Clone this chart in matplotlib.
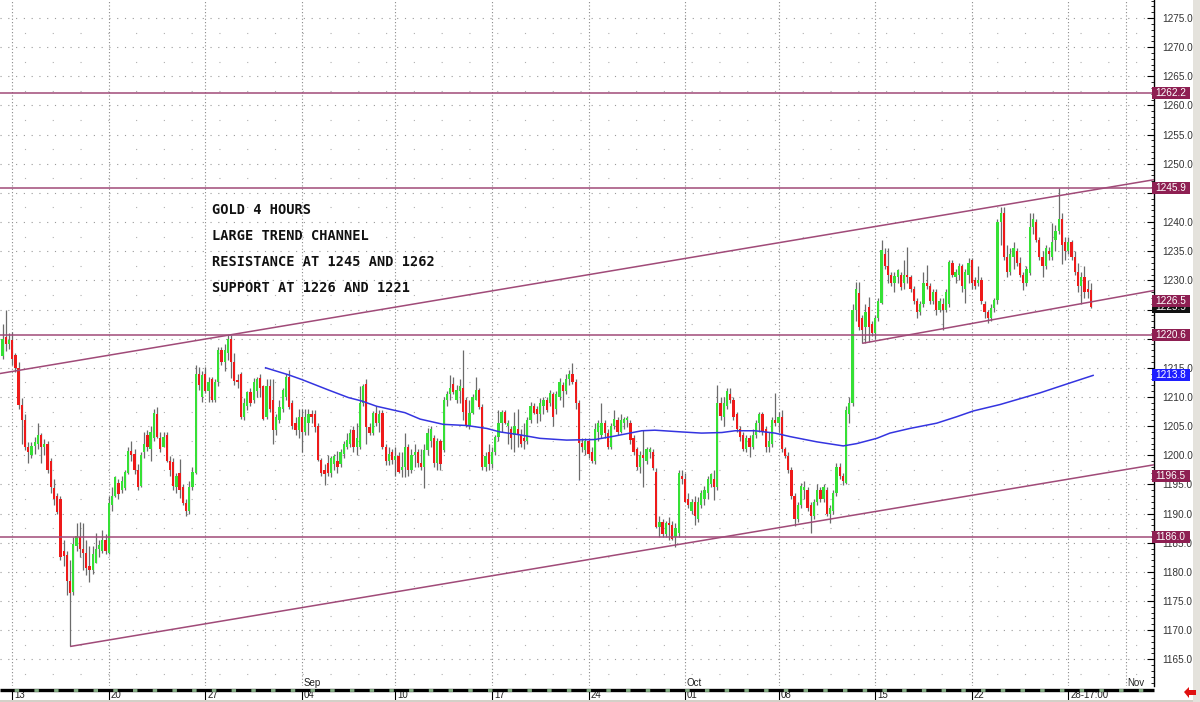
import numpy as np
import matplotlib
matplotlib.use("Agg")
import matplotlib.pyplot as plt
from matplotlib.transforms import blended_transform_factory
from matplotlib.patches import Rectangle, Polygon
from matplotlib.ticker import MultipleLocator, FuncFormatter

# ---------------- data (4-hour OHLC bars) ----------------
bars_aug_a = [
    (1217.0,1222.5,1216.5,1220.0),(1220.3,1224.9,1217.8,1219.0),(1219.0,1221.0,1218.3,1219.8),
    (1219.8,1221.2,1215.5,1216.5),(1217.2,1217.5,1214.3,1215.0),(1215.0,1216.0,1208.0,1208.6),
    (1208.6,1209.8,1202.0,1206.0),(1206.0,1207.0,1200.9,1201.5),(1201.5,1202.3,1198.6,1200.5),
    (1200.0,1202.3,1199.5,1201.6),(1201.6,1203.2,1200.3,1202.3),(1202.0,1205.5,1201.0,1203.5),
    (1203.5,1203.8,1198.6,1201.5),(1201.5,1202.8,1200.0,1202.0),(1202.0,1202.5,1197.0,1197.5),
    (1199.0,1199.5,1193.5,1194.5),(1194.3,1196.0,1191.5,1192.5),(1193.0,1193.5,1190.0,1190.3),
    (1192.5,1193.0,1182.0,1182.6),(1183.5,1185.5,1181.0,1182.8),(1182.9,1183.5,1176.0,1178.5),
    (1178.5,1182.0,1167.2,1176.3),(1176.5,1186.0,1176.0,1184.8),(1184.5,1188.3,1183.5,1186.2),
    (1186.0,1188.6,1182.6,1184.0),(1184.0,1188.3,1180.3,1183.2),(1183.2,1185.5,1179.5,1180.6),
    (1181.0,1184.5,1178.3,1180.3),(1180.3,1184.5,1179.7,1183.0),(1181.5,1186.6,1181.5,1184.0),
    (1184.0,1185.5,1182.5,1184.6),(1183.5,1187.2,1183.2,1185.5),(1185.5,1186.5,1183.0,1183.5),
]
bars_aug_b = [
    (1183.2,1193.0,1183.0,1191.8),(1191.5,1194.5,1190.5,1193.0),(1193.0,1196.5,1192.8,1196.3),
    (1195.2,1196.0,1192.5,1193.4),(1194.0,1196.5,1193.5,1195.5),(1194.4,1197.5,1194.0,1197.2),
    (1197.0,1201.5,1196.8,1200.8),(1200.8,1202.5,1199.0,1200.0),(1200.3,1201.0,1196.8,1197.5),
    (1197.5,1198.5,1194.0,1194.5),(1194.8,1200.5,1194.5,1200.0),(1200.5,1204.0,1199.5,1202.0),
    (1203.5,1204.3,1200.8,1201.5),(1201.0,1205.0,1199.0,1204.0),(1203.0,1208.0,1202.5,1207.2),
    (1207.0,1208.2,1203.0,1203.2),(1203.0,1204.0,1200.5,1201.0),(1201.5,1204.0,1201.5,1203.2),
    (1203.5,1204.0,1198.8,1199.0),(1199.0,1199.8,1196.5,1197.5),(1198.8,1199.5,1194.0,1194.8),
    (1194.5,1197.0,1193.5,1196.5),(1197.0,1199.3,1192.7,1194.0),(1194.5,1195.0,1191.5,1191.8),
    (1191.8,1192.5,1189.5,1190.5),(1190.5,1195.5,1190.0,1194.5),(1194.5,1198.0,1194.0,1197.2),
    (1197.0,1215.5,1196.8,1214.0),
]
bars_sep_a = [
    (1214.0,1215.2,1211.2,1212.0),(1210.0,1214.5,1209.2,1213.8),(1214.0,1215.2,1210.6,1211.0),
    (1211.0,1213.5,1209.2,1212.5),(1213.0,1213.5,1209.2,1209.5),(1209.5,1213.0,1209.2,1212.5),
    (1212.5,1218.6,1211.8,1218.0),(1218.0,1218.6,1215.5,1216.0),(1216.0,1219.0,1214.5,1218.0),
    (1217.5,1220.6,1216.3,1220.0),(1220.0,1220.6,1213.2,1216.0),(1216.0,1217.5,1212.0,1212.8),
    (1212.8,1214.0,1211.5,1212.5),(1214.0,1214.2,1206.2,1206.6),(1206.6,1209.8,1206.0,1209.0),
    (1208.5,1211.0,1207.8,1210.8),(1210.8,1211.5,1208.5,1209.0),(1209.5,1213.2,1209.0,1212.5),
    (1211.0,1213.5,1210.0,1213.0),(1213.2,1214.0,1210.0,1211.5),(1211.8,1212.0,1206.0,1206.3),
    (1206.5,1213.0,1206.3,1211.8),(1211.8,1213.0,1207.5,1208.0),(1209.5,1213.0,1202.0,1204.3),
    (1204.3,1207.0,1203.5,1206.5),(1206.0,1209.5,1205.5,1208.3),(1208.0,1211.5,1207.5,1211.2),
    (1210.0,1214.0,1209.5,1213.5),(1213.5,1214.6,1208.0,1208.3),(1208.9,1209.5,1204.5,1205.0),
    (1205.5,1206.5,1203.5,1204.3),(1204.3,1208.0,1203.0,1206.6),
]
bars_sep_b = [
    (1206.5,1208.0,1200.6,1204.0),(1204.0,1208.0,1203.5,1206.5),(1205.5,1208.0,1203.5,1207.0),
    (1207.0,1207.8,1205.5,1206.5),(1207.0,1207.8,1204.0,1204.8),(1205.0,1205.5,1199.0,1199.2),
    (1199.2,1199.5,1196.5,1197.0),(1197.5,1198.5,1194.9,1196.8),(1198.6,1200.0,1196.5,1197.0),
    (1197.0,1199.8,1196.3,1199.5),(1198.5,1200.3,1197.5,1199.8),(1199.0,1200.8,1197.0,1198.0),
    (1198.5,1201.0,1198.0,1200.5),(1200.3,1202.5,1199.5,1202.0),(1201.5,1203.8,1201.0,1202.6),
    (1202.0,1204.5,1201.5,1203.8),(1204.3,1205.0,1200.5,1201.5),(1201.5,1205.5,1200.0,1203.0),
    (1201.5,1211.8,1201.0,1209.0),(1209.0,1212.3,1208.5,1211.8),(1212.3,1213.0,1202.0,1204.9),
    (1204.9,1205.5,1203.5,1203.8),(1203.8,1207.6,1203.5,1207.2),(1207.2,1208.5,1205.0,1205.6),
    (1205.5,1207.8,1204.0,1207.0),(1207.2,1207.8,1201.0,1201.5),(1201.5,1202.0,1198.3,1199.0),
    (1199.0,1201.5,1198.3,1200.3),(1200.5,1201.0,1198.5,1199.2),(1199.2,1201.5,1196.5,1199.8),
    (1199.8,1200.5,1196.9,1197.2),(1197.5,1200.6,1196.3,1198.0),
]
bars_sep_c = [
    (1198.0,1203.8,1196.3,1201.5),(1201.5,1202.0,1196.4,1197.5),(1197.5,1201.0,1197.0,1200.0),
    (1200.0,1202.0,1198.0,1200.5),(1200.5,1201.0,1198.0,1198.6),(1198.6,1201.0,1197.5,1198.0),
    (1198.0,1202.0,1194.3,1200.9),(1200.9,1204.6,1200.0,1203.8),(1202.5,1205.0,1201.5,1204.5),
    (1203.0,1203.5,1198.0,1198.6),(1198.6,1203.0,1197.5,1202.5),(1202.5,1202.8,1197.5,1198.5),
    (1200.9,1210.0,1200.5,1209.5),(1209.5,1211.0,1208.5,1210.5),(1210.5,1213.8,1209.5,1211.5),
    (1212.3,1213.5,1210.5,1210.8),(1209.5,1212.0,1209.0,1211.2),(1211.0,1213.0,1209.0,1211.8),
    (1211.5,1218.1,1206.0,1207.5),(1209.5,1210.0,1204.9,1205.0),(1205.0,1209.5,1204.5,1207.2),
    (1207.2,1210.5,1207.0,1210.0),(1209.5,1213.5,1209.5,1211.2),(1211.2,1211.5,1208.0,1208.3),
    (1208.3,1208.8,1197.5,1198.0),(1198.0,1200.5,1197.3,1199.8),(1200.5,1202.0,1197.5,1198.5),
    (1198.5,1201.5,1197.8,1200.5),(1200.5,1203.5,1200.0,1203.2),(1203.2,1207.8,1202.5,1205.5),
]
bars_sep_d = [
    (1205.5,1207.8,1204.0,1207.5),(1207.5,1207.8,1205.3,1205.5),(1205.0,1206.0,1202.0,1205.5),
    (1204.5,1205.0,1201.0,1203.0),(1203.5,1207.5,1200.5,1205.0),(1204.5,1208.0,1201.5,1203.5),
    (1203.5,1204.5,1201.5,1202.0),(1203.0,1205.5,1201.0,1202.5),(1202.5,1206.5,1202.0,1206.0),
    (1206.0,1209.2,1205.5,1208.5),(1208.5,1209.0,1207.0,1207.2),(1208.0,1208.5,1205.5,1207.0),
    (1207.0,1209.8,1205.8,1209.0),(1208.5,1210.0,1207.0,1209.5),(1209.5,1210.0,1207.5,1207.8),
    (1208.9,1211.2,1208.5,1210.6),(1210.5,1210.8,1205.0,1206.5),(1208.0,1211.0,1207.0,1210.5),
    (1210.0,1213.2,1209.5,1212.5),(1212.0,1212.5,1208.3,1211.0),(1211.0,1214.0,1210.5,1213.0),
    (1213.0,1214.7,1212.0,1214.0),(1214.0,1215.8,1212.3,1212.5),(1212.5,1213.0,1208.0,1208.9),
    (1208.9,1209.5,1195.8,1202.1),(1202.1,1203.0,1200.5,1201.5),(1200.9,1203.0,1200.0,1202.5),
    (1202.5,1203.0,1199.5,1200.3),(1200.5,1201.5,1198.6,1199.0),(1199.0,1205.5,1198.5,1204.5),
    (1204.0,1206.0,1202.5,1205.5),
]
bars_oct_a = [
    (1203.5,1208.9,1203.0,1205.5),(1205.5,1206.0,1203.0,1203.8),(1203.8,1204.5,1201.0,1201.5),
    (1201.5,1205.5,1201.0,1205.0),(1205.0,1207.7,1204.5,1206.2),(1206.0,1206.5,1203.5,1204.0),
    (1204.0,1207.0,1203.8,1206.0),(1205.5,1206.5,1204.5,1206.2),(1206.0,1206.8,1204.8,1206.0),
    (1205.5,1206.0,1202.0,1202.6),(1203.0,1203.5,1200.0,1200.5),(1201.0,1201.5,1197.5,1198.0),
    (1198.0,1200.8,1197.0,1200.0),(1200.0,1204.3,1194.6,1199.5),(1199.0,1201.5,1198.5,1201.0),
    (1200.5,1201.5,1199.5,1201.0),(1200.5,1201.0,1197.5,1197.8),(1197.2,1197.8,1187.5,1187.7),
    (1187.7,1189.5,1186.0,1188.5),(1188.5,1189.0,1186.0,1186.5),(1186.5,1188.8,1186.0,1188.3),
    (1188.3,1189.4,1185.5,1188.0),(1188.0,1188.7,1185.4,1185.6),(1186.0,1188.3,1184.3,1187.5),
    (1186.6,1197.5,1186.0,1196.9),(1196.5,1197.5,1195.0,1196.0),(1196.0,1197.0,1192.0,1192.0),
    (1192.5,1193.5,1191.0,1191.5),(1190.5,1192.5,1190.0,1192.0),(1192.0,1193.0,1188.0,1189.5),
]
bars_oct_b = [
    (1189.0,1192.8,1188.5,1192.0),(1191.5,1194.0,1191.0,1193.5),(1192.5,1194.8,1191.5,1194.0),
    (1193.5,1196.5,1192.5,1196.0),(1195.0,1197.0,1194.5,1196.8),(1196.0,1197.5,1192.3,1194.6),
    (1194.6,1212.0,1194.0,1208.9),(1208.9,1210.0,1206.0,1206.8),(1206.5,1210.0,1205.0,1208.9),
    (1208.5,1211.5,1208.0,1211.0),(1210.5,1211.5,1209.0,1209.5),(1209.5,1210.0,1206.0,1206.5),
    (1207.0,1207.5,1204.0,1204.5),(1204.5,1205.0,1202.5,1203.2),(1203.5,1204.0,1200.8,1201.0),
    (1201.0,1203.5,1200.5,1203.0),(1203.0,1203.5,1199.7,1201.5),(1201.5,1204.5,1201.0,1203.5),
    (1203.5,1206.0,1203.0,1205.5),(1205.5,1207.5,1204.0,1207.0),(1207.0,1207.5,1203.5,1204.0),
    (1204.5,1205.0,1200.5,1201.5),(1201.5,1204.0,1200.5,1202.5),(1202.0,1206.5,1201.5,1206.0),
    (1206.0,1210.6,1205.0,1205.5),(1205.5,1207.5,1204.0,1206.5),(1206.5,1207.8,1200.5,1201.0),
    (1201.0,1201.5,1199.5,1199.8),(1199.8,1200.5,1197.0,1197.5),(1197.5,1198.0,1192.5,1193.0),
]
bars_oct_c = [
    (1193.0,1193.5,1187.8,1189.0),(1189.0,1192.0,1188.5,1191.5),(1191.5,1195.2,1191.0,1194.8),
    (1194.0,1195.5,1192.5,1194.5),(1194.0,1194.5,1190.5,1191.0),(1191.5,1192.0,1186.6,1189.5),
    (1189.5,1192.5,1189.0,1192.0),(1192.0,1195.0,1191.5,1194.0),(1194.0,1194.5,1192.0,1192.5),
    (1192.5,1195.0,1192.0,1194.5),(1194.0,1194.5,1189.5,1190.0),(1190.0,1191.5,1188.3,1191.0),
    (1190.5,1194.0,1190.0,1193.5),(1193.5,1198.6,1193.0,1198.0),(1198.0,1198.6,1196.0,1196.5),
    (1196.5,1197.0,1194.9,1195.5),(1195.2,1208.5,1195.0,1207.8),(1207.0,1210.0,1205.5,1209.0),
    (1209.0,1226.0,1208.5,1225.0),(1225.0,1229.8,1223.0,1228.5),(1227.8,1229.8,1221.5,1222.0),
    (1223.5,1224.0,1219.2,1221.5),(1222.0,1226.0,1219.2,1224.5),(1225.5,1227.2,1219.5,1222.0),
    (1222.5,1223.0,1220.5,1221.0),(1221.0,1224.0,1220.0,1223.5),(1223.5,1227.0,1223.0,1226.5),
]
bars_oct_d = [
    (1226.1,1236.9,1226.0,1235.2),(1234.5,1235.5,1232.0,1232.5),(1232.5,1235.5,1229.5,1231.0),
    (1231.0,1231.5,1229.0,1229.5),(1229.5,1231.5,1228.0,1230.8),(1230.5,1232.0,1229.5,1231.8),
    (1231.0,1231.5,1228.3,1228.8),(1229.5,1233.5,1228.5,1231.0),(1231.0,1235.8,1229.5,1230.5),
    (1230.5,1231.0,1228.0,1228.5),(1228.5,1229.0,1226.0,1226.5),(1226.5,1227.0,1223.5,1224.5),
    (1224.5,1226.5,1224.0,1226.0),(1226.0,1231.5,1225.5,1229.5),(1229.5,1232.6,1228.5,1229.0),
    (1229.0,1229.5,1226.0,1226.5),(1226.5,1228.5,1226.0,1228.0),(1228.0,1228.5,1224.0,1225.0),
    (1225.0,1227.0,1224.5,1226.5),(1226.0,1227.0,1221.5,1225.0),(1225.0,1228.5,1224.5,1228.0),
    (1226.0,1233.5,1225.5,1233.2),(1233.0,1233.5,1230.5,1231.0),(1230.5,1232.0,1229.5,1231.5),
    (1231.0,1233.0,1230.0,1232.5),(1232.5,1232.8,1228.0,1229.0),(1228.5,1232.0,1226.1,1231.5),
    (1231.0,1233.8,1229.5,1233.0),(1233.5,1233.8,1228.5,1229.5),(1230.0,1230.5,1228.5,1229.0),
    (1229.5,1232.5,1229.0,1230.0),(1230.0,1230.5,1226.0,1226.5),(1226.0,1226.5,1223.5,1224.5),
    (1224.5,1225.0,1222.6,1223.5),(1223.5,1226.0,1223.0,1225.2),(1225.2,1227.0,1224.5,1226.6),
]
bars_oct_e = [
    (1226.6,1240.5,1226.0,1240.0),(1240.0,1242.6,1236.0,1241.5),(1241.5,1242.5,1233.5,1234.0),
    (1234.0,1236.0,1230.5,1231.5),(1231.5,1235.5,1231.0,1234.5),(1234.0,1236.5,1232.0,1235.5),
    (1235.0,1235.5,1232.5,1233.0),(1233.0,1234.0,1230.5,1231.0),(1231.0,1231.5,1228.3,1229.5),
    (1229.5,1232.5,1229.0,1232.0),(1231.2,1241.5,1231.0,1239.2),(1239.2,1241.5,1238.0,1240.5),
    (1240.0,1240.5,1236.5,1237.0),(1237.0,1237.5,1233.5,1234.0),(1234.0,1235.0,1230.6,1232.5),
    (1232.5,1236.0,1232.0,1235.5),(1235.0,1235.8,1233.5,1234.5),(1234.0,1239.8,1233.5,1236.5),
    (1237.0,1239.5,1235.0,1238.5),(1238.5,1245.8,1238.0,1240.5),(1240.5,1241.5,1232.8,1236.0),
    (1236.5,1237.5,1233.5,1235.0),(1235.0,1237.5,1234.5,1236.5),(1236.5,1237.0,1233.5,1234.0),
    (1234.0,1235.0,1231.0,1231.5),(1231.5,1233.0,1228.0,1229.0),(1229.0,1231.5,1226.0,1230.5),
    (1230.5,1232.5,1227.0,1228.0),(1228.5,1230.0,1227.0,1228.0),(1228.3,1229.5,1225.2,1225.5),
]

# moving average (bar index, price)
ma_idx = [81.7, 88.8, 92.9, 101.2, 107.4, 111.6, 116.2, 125.0, 129.7, 136.9, 144.2, 150.4,
          154.5, 160.7, 166.9, 175.2, 184.0, 190.2, 198.5, 202.6, 210.9, 217.1, 223.4, 227.5,
          233.7, 239.9, 244.6, 252.9, 261.1, 265.3, 271.5, 275.6, 281.8, 290.1, 296.3, 301.5,
          309.8, 322.2, 331.5, 338.7]
ma_val = [1215.0, 1213.8, 1213.0, 1211.2, 1209.9, 1209.3, 1208.4, 1207.3, 1206.2, 1205.3, 1205.1, 1204.6,
          1204.0, 1203.5, 1202.9, 1202.6, 1202.7, 1203.3, 1204.2, 1204.3, 1204.0, 1203.8, 1203.9, 1204.2,
          1204.2, 1203.8, 1203.2, 1202.3, 1201.6, 1202.0, 1202.9, 1203.8, 1204.6, 1205.5, 1206.6, 1207.6,
          1208.7, 1210.7, 1212.4, 1213.7]

# horizontal support / resistance levels
h_levels = [1262.2, 1245.9, 1220.6, 1186.0]
# trend lines: (bar index start, price start, bar index end, price end)
upper_channel = (-1.0, 1214.0, 358.0, 1247.3)
lower_channel = (21.0, 1167.2, 358.0, 1198.4)
short_channel = (267.0, 1219.2, 358.0, 1228.3)

# axis labels
week_ticks = [3, 33, 63, 93, 122, 152, 182, 212, 241, 271, 301, 331, 349]
week_labels = ['13', '20', '27', '04', '10', '17', '24', '01', '08', '15', '22', '28-17:00', '']
month_ticks = [93, 212, 349]
month_labels = ['Sep', 'Oct', 'Nov']
price_labels = [(1262.2, '#8e1f52'), (1245.9, '#8e1f52'), (1226.5, '#8e1f52'),
                (1220.6, '#8e1f52'), (1213.8, '#1f1fff'), (1196.5, '#8e1f52'), (1186.0, '#8e1f52')]
last_price = 1225.5
hidden_ticks = [1245.0, 1225.0, 1220.0]
notes = ['GOLD 4 HOURS', 'LARGE TREND CHANNEL', 'RESISTANCE AT 1245 AND 1262', 'SUPPORT AT 1226 AND 1221']

# ---------------- figure ----------------
all_bars = (bars_aug_a + bars_aug_b + bars_sep_a + bars_sep_b + bars_sep_c + bars_sep_d +
            bars_oct_a + bars_oct_b + bars_oct_c + bars_oct_d + bars_oct_e)
ohlc = np.array(all_bars)
opens, highs, lows, closes = ohlc[:, 0], ohlc[:, 1], ohlc[:, 2], ohlc[:, 3]
idx = np.arange(len(ohlc))

W, H = 1200, 702
AX_R, AX_B = 1154, 686
PX0, PXB = 2.5, 3.22
fig = plt.figure(figsize=(W / 100, H / 100), dpi=100)
fig.patch.set_facecolor('white')
ax = fig.add_axes([0, 1 - AX_B / H, AX_R / W, AX_B / H])
ax.set_facecolor('white')
ax.set_xlim((0 - PX0) / PXB, (AX_R - PX0) / PXB)
ax.set_ylim(1160.42, 1278.09)

for s in ['top', 'left', 'bottom']:
    ax.spines[s].set_visible(False)
ax.spines['right'].set_color('black')
ax.spines['right'].set_linewidth(1.0)
ax.set_xticks([])
ax.yaxis.tick_right()
ax.yaxis.set_major_locator(MultipleLocator(5))
ax.yaxis.set_minor_locator(MultipleLocator(1))
ax.yaxis.set_major_formatter(FuncFormatter(
    lambda v, p: '' if any(abs(v - h) < 0.01 for h in hidden_ticks) else '%.1f' % v))
ax.tick_params(axis='y', which='major', direction='in', length=5, width=0.8, pad=6,
               labelsize=7.2, labelcolor='#333333')
ax.tick_params(axis='y', which='minor', direction='in', length=2.5, width=0.6)
for t in ax.get_yticklabels():
    t.set_fontfamily('Liberation Sans')

# grid
for v in np.arange(1165, 1280, 5):
    ax.axhline(v, color='#9a9a9a', lw=0.8, ls=(0, (1, 6)), zorder=1)
    ax.axhline(v - 2.5, color='#b0b0b0', lw=0.8, ls=(3, (1, 24)), zorder=1)
for x in week_ticks:
    ax.axvline(x, color='#8a8a8a', lw=0.8, ls=(0, (1, 2)), zorder=1)

# candles
ax.vlines(idx, lows, highs, color='#6b6b6b', lw=0.9, zorder=3)
up = closes >= opens
body_lo = np.minimum(opens, closes)
body_h = np.maximum(np.abs(closes - opens), 0.35)
ax.bar(idx[up], body_h[up], bottom=body_lo[up], width=0.7, color='#35e035', lw=0, zorder=4)
ax.bar(idx[~up], body_h[~up], bottom=body_lo[~up], width=0.7, color='#ee1a1a', lw=0, zorder=4)

# lines
LC = '#a04a78'
for lv in h_levels:
    ax.axhline(lv, color=LC, lw=1.1, zorder=5)
for (x0, y0, x1, y1) in [upper_channel, lower_channel, short_channel]:
    ax.plot([x0, x1], [y0, y1], color=LC, lw=1.1, zorder=5, solid_capstyle='butt')
ax.plot(ma_idx, ma_val, color='#3434e0', lw=1.1, zorder=5)

# price boxes on axis
trb = blended_transform_factory(ax.transAxes, ax.transData)
box_h = 12 / 5.83
def price_box(val, fc, z):
    ax.add_patch(Rectangle((1152 / AX_R, val - box_h / 2), 38 / AX_R, box_h, transform=trb,
                           facecolor=fc, edgecolor='none', clip_on=False, zorder=z))
    ax.text(1155 / AX_R, val - 0.05, '%.1f' % val, transform=trb, ha='left', va='center',
            color='white', fontsize=7.2, family='Liberation Sans', clip_on=False, zorder=z + 0.1)
price_box(last_price, '#111111', 6)
for k, (val, fc) in enumerate(price_labels):
    price_box(val, fc, 7 + k * 0.2)

# annotation text
for k, line in enumerate(notes):
    fig.text(212 / W, 1 - (210 + 26 * k) / H, line, ha='left', va='center',
             fontsize=9.8, fontweight='bold', family='DejaVu Sans Mono', color='#111111')

# time axis band
trx = blended_transform_factory(ax.transData, fig.transFigure)
xb0, xb1 = ax.get_xlim()
band_y = 1 - 690 / H
ax.plot([xb0, xb1], [band_y, band_y], transform=trx, color='black', lw=2.4, clip_on=False,
        solid_capstyle='butt', zorder=6)
ax.plot([xb0, xb1], [band_y, band_y], transform=trx, color='#86b086', lw=2.0, clip_on=False,
        ls=(2, (1.6, 5.5)), zorder=6.1)
for x, lab in zip(week_ticks, week_labels):
    if lab:
        ax.plot([x, x], [1 - 690 / H, 1 - 700 / H], transform=trx, color='black', lw=0.8,
                clip_on=False, zorder=6)
        ax.text(x + 0.6, 1 - 695.5 / H, lab, transform=trx, ha='left', va='center', fontsize=7,
                family='Liberation Sans', color='#222222', clip_on=False)
for x, lab in zip(month_ticks, month_labels):
    ax.text(x + 0.4, 1 - 683 / H, lab, transform=trx, ha='left', va='center', fontsize=7,
            family='Liberation Sans', color='#222222', clip_on=False)

# frame decorations
fig.patches.append(Rectangle((0, 0), 1, 2.5 / H, transform=fig.transFigure,
                             facecolor='#d4d0c8', edgecolor='none'))
fig.patches.append(Rectangle((1193 / W, 0), 7 / W, 1, transform=fig.transFigure,
                             facecolor='#e4e2dc', edgecolor='none'))
arrow_px = [(1184, 692), (1189, 687), (1189, 690), (1196, 690), (1196, 695), (1189, 695), (1189, 698)]
fig.patches.append(Polygon([(px / W, 1 - py / H) for px, py in arrow_px], closed=True,
                           transform=fig.transFigure, facecolor='#e01010', edgecolor='none'))

fig.savefig('out.png', dpi=100, facecolor='white')
